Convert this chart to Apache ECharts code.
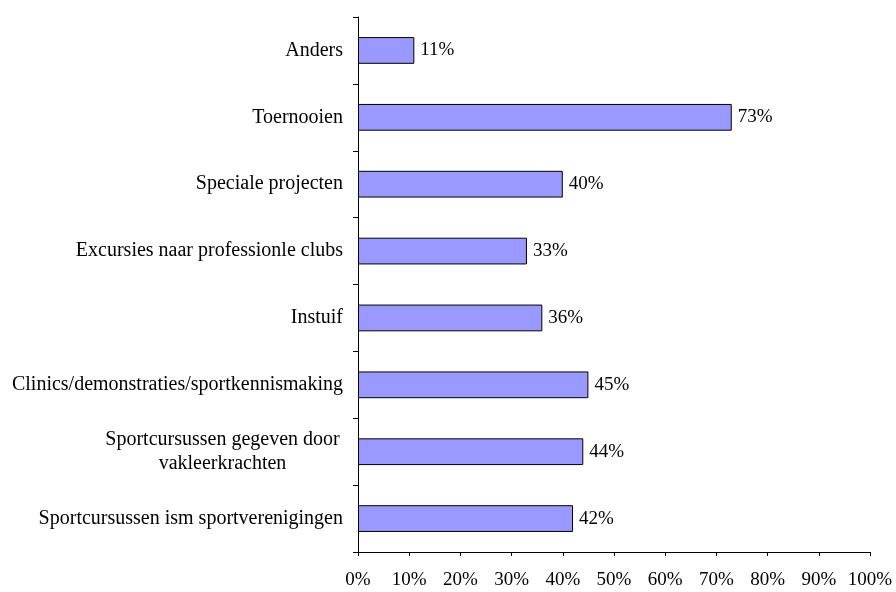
<!DOCTYPE html>
<html>
<head>
<meta charset="utf-8">
<script src="https://cdn.jsdelivr.net/npm/echarts@6/dist/echarts.min.js"></script>
<style>
  html, body { margin: 0; padding: 0; background: #fff; }
  #chart { width: 896px; height: 592px; }
</style>
</head>
<body>
<div id="chart"></div>
<script>
// categories from bottom to top
var categories = [
    'Sportcursussen ism sportverenigingen',
    'Sportcursussen gegeven door\nvakleerkrachten',
    'Clinics/demonstraties/sportkennismaking',
    'Instuif',
    'Excursies naar professionle clubs',
    'Speciale projecten',
    'Toernooien',
    'Anders'
];
var values = [42, 44, 45, 36, 33, 40, 73, 11];

var font = 'Liberation Serif';

var chart = echarts.init(document.getElementById('chart'));

chart.setOption({
    animation: false,
    grid: { left: 358, right: 26, top: 17, bottom: 40 },
    xAxis: {
        type: 'value',
        min: 0,
        max: 100,
        interval: 10,
        axisLine: { show: true, lineStyle: { color: '#000', width: 1 } },
        axisTick: { show: true, length: 4, lineStyle: { color: '#000' } },
        splitLine: { show: false },
        axisLabel: {
            formatter: '{value}%',
            color: '#000',
            fontFamily: font,
            fontSize: 19,
            margin: 19
        }
    },
    yAxis: {
        type: 'category',
        data: categories,
        axisLine: { show: true, lineStyle: { color: '#000', width: 1 } },
        axisTick: { show: true, length: 5, lineStyle: { color: '#000' } },
        axisLabel: {
            color: '#000',
            fontFamily: font,
            fontSize: 20,
            margin: 15,
            formatter: function (v) {
                if (v.indexOf('\n') >= 0) {
                    return '{c|' + v + '}';
                }
                return v;
            },
            rich: {
                c: { width: 241, align: 'center', fontFamily: font, fontSize: 20, color: '#000', lineHeight: 24 }
            }
        }
    },
    series: [{
        type: 'bar',
        data: values,
        barWidth: '40%',
        itemStyle: { color: '#9999ff', borderColor: '#000', borderWidth: 1 },
        label: {
            show: true,
            position: 'right',
            distance: 6,
            formatter: '{c}%',
            color: '#000',
            fontFamily: font,
            fontSize: 19
        }
    }]
});
</script>
</body>
</html>
